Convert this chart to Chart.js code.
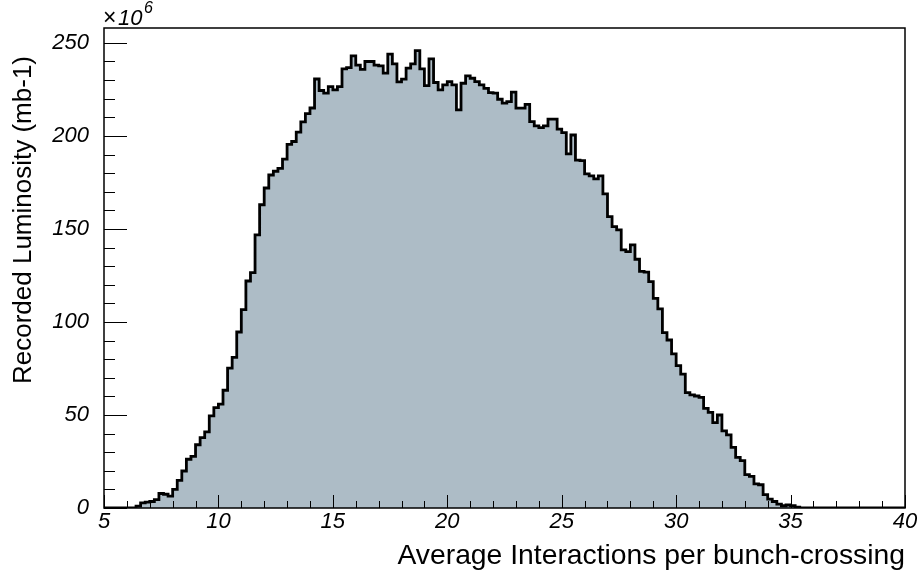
<!DOCTYPE html>
<html>
<head>
<meta charset="utf-8">
<title>Recorded Luminosity</title>
<script src="https://cdn.jsdelivr.net/npm/chart.js@4.4.1/dist/chart.umd.min.js"></script>
<style>
  html, body { margin: 0; padding: 0; background: #fff; }
  #lumiChart { display: block; }
</style>
</head>
<body>
<canvas id="lumiChart" width="920" height="573"></canvas>
<script>
const xMin = 5;
const xMax = 40;
const binWidth = 0.2;
const yMax = 258;
const xTicks = [5, 10, 15, 20, 25, 30, 35, 40];
const yTicks = [0, 50, 100, 150, 200, 250];

// recorded luminosity per 0.2 wide bin of <mu>, in 1e6 mb-1
const lumiValues = [
  0, 0, 0, 0, 0, 0, 0, 1, 2.8, 3.2,
  3.5, 4.5, 7.8, 7.4, 6.4, 10, 14.9, 19.9, 26.2, 27.8,
  34, 37.8, 40.9, 49.5, 54, 55.8, 63.3, 75.2, 81, 94.6,
  106.6, 122, 126.5, 146.8, 163, 172, 179, 181, 182.5, 187.5,
  195.5, 197, 202, 207.5, 212, 215, 230.6, 224.4, 223, 226.5,
  224.7, 226.5, 236, 236.7, 243, 238, 235.8, 240, 240, 238,
  237.6, 233.7, 244, 238.7, 229, 230.5, 236.4, 238.7, 245.8, 236,
  227, 241.4, 228.7, 224.7, 227.4, 229.2, 227.4, 214, 228.3, 232.3,
  231, 229.2, 227.4, 225.6, 223.3, 223, 219.7, 217.6, 218.4, 223.5,
  214.9, 214.9, 217, 207.7, 205.4, 204.5, 205.4, 209, 209, 203.6,
  201.8, 190.3, 200.5, 187, 186.7, 179.6, 178.5, 176.9, 178.5, 168.8,
  156.6, 151.2, 149.5, 138.7, 137.8, 141.4, 133.7, 127.2, 126.8, 121.7,
  112.7, 107, 94.3, 90.3, 82.8, 76.5, 72, 62, 60.8, 60.2,
  59.5, 53.6, 51.4, 45.9, 50, 41.5, 39.3, 32.6, 27.2, 25.5,
  17.9, 17, 13, 12.5, 7.2, 4.8, 3.5, 2.1, 1.2, 1.6,
  1.2, 0.5, 0, 0, 0, 0, 0, 0, 0, 0,
  0, 0, 0, 0, 0, 0, 0, 0, 0, 0,
  0, 0, 0, 0, 0
];

const xTitle = "Average Interactions per bunch-crossing";
const yTitle = "Recorded Luminosity (mb-1)";

const fontFamily = '"Liberation Sans", Arial, Helvetica, sans-serif';

// one point on the left edge of every bin, plus the closing edge at xMax
function buildPoints() {
  let points = lumiValues.map((v, i) => ({
    x: Math.round((xMin + i * binWidth) * 10) / 10,
    y: v,
  }));
  points.push({ x: xMax, y: lumiValues[lumiValues.length - 1] });
  return points;
}

// ROOT style frame: inward ticks, box around the pad, titles and exponent
const frameDecor = {
  id: "frameDecor",
  afterDatasetsDraw(chart) {
    const { ctx, chartArea: a, scales } = chart;
    const x = scales.x;
    const y = scales.y;
    ctx.save();
    ctx.strokeStyle = "#000";
    ctx.lineWidth = 1;
    ctx.beginPath();
    for (let v = xMin; v <= xMax; v++) {
      const px = Math.round(x.getPixelForValue(v)) + 0.5;
      const len = v % 5 === 0 ? 13 : 7;
      ctx.moveTo(px, a.bottom);
      ctx.lineTo(px, a.bottom - len);
    }
    for (let v = 0; v <= 250; v += 10) {
      const py = Math.round(y.getPixelForValue(v)) + 0.5;
      const len = v % 50 === 0 ? 23 : 11;
      ctx.moveTo(a.left, py);
      ctx.lineTo(a.left + len, py);
    }
    ctx.stroke();

    ctx.lineWidth = 1.5;
    ctx.strokeRect(a.left, a.top, a.right - a.left, a.bottom - a.top);

    ctx.fillStyle = "#000";
    ctx.textBaseline = "alphabetic";

    ctx.font = "28.3px " + fontFamily;
    ctx.textAlign = "right";
    ctx.fillText(xTitle, a.right, 564);

    ctx.save();
    ctx.translate(31, 56);
    ctx.rotate(-Math.PI / 2);
    ctx.textAlign = "right";
    ctx.font = "26px " + fontFamily;
    ctx.fillText(yTitle, 0, 0);
    ctx.restore();

    ctx.textAlign = "left";
    ctx.font = "23px " + fontFamily;
    ctx.fillText("\u00d7", 103, 25);
    ctx.font = "italic 22px " + fontFamily;
    ctx.fillText("10", 118, 25);
    ctx.font = "italic 16px " + fontFamily;
    ctx.fillText("6", 144, 13);
    ctx.restore();
  },
};

function buildConfig() {
  return {
    type: "line",
    data: {
      datasets: [
        {
          data: buildPoints(),
          stepped: true,
          borderColor: "#000",
          borderWidth: 2.8,
          backgroundColor: "#adbcc6",
          fill: "origin",
          pointRadius: 0,
        },
      ],
    },
    options: {
      responsive: false,
      animation: false,
      layout: { padding: { top: 28, right: 15, bottom: 0, left: 0 } },
      plugins: {
        legend: { display: false },
        tooltip: { enabled: false },
      },
      scales: {
        x: {
          type: "linear",
          min: xMin,
          max: xMax,
          grid: { display: false },
          border: { display: false },
          ticks: {
            color: "#000",
            padding: -7,
            maxRotation: 0,
            font: { family: fontFamily, size: 22, style: "italic" },
          },
          afterBuildTicks: (s) => {
            s.ticks = xTicks.map((v) => ({ value: v }));
          },
          afterFit: (s) => {
            s.height = 65;
          },
        },
        y: {
          min: 0,
          max: yMax,
          grid: { display: false },
          border: { display: false },
          ticks: {
            color: "#000",
            padding: 7,
            font: { family: fontFamily, size: 22, style: "italic" },
          },
          afterBuildTicks: (s) => {
            s.ticks = yTicks.map((v) => ({ value: v }));
          },
          afterFit: (s) => {
            s.width = 104;
          },
        },
      },
    },
    plugins: [frameDecor],
  };
}

const ctx = document.getElementById("lumiChart").getContext("2d");
new Chart(ctx, buildConfig());
</script>
</body>
</html>
